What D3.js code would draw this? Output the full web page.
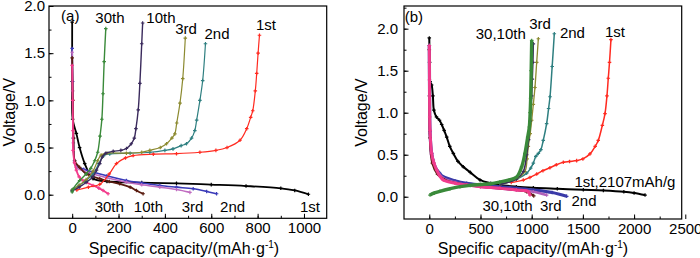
<!DOCTYPE html>
<html>
<head>
<meta charset="utf-8">
<script src="https://cdn.jsdelivr.net/npm/d3@7"></script>
<style>
body { margin: 0; background: #fff; }
svg { font-family: "Liberation Sans", Arial, sans-serif; }
</style>
</head>
<body>
<svg id="drawing_region" width="700" height="258"></svg>
<script>
// ---- panel (a): [capacity mAh/g, voltage V]
const a_dis1 = [[0,1.83],[0,1.2],[2,0.8],[18,0.65],[32,0.50],[54,0.33],[75,0.22],[90,0.17],[150,0.14],[300,0.128],[450,0.12],[600,0.107],[750,0.092],[900,0.068],[960,0.045],[1019,0.005]];
const a_dis2 = [[0,1.55],[2,1.2],[5,0.6],[10,0.36],[18,0.31],[50,0.27],[90,0.24],[150,0.2],[234,0.151],[300,0.125],[378,0.098],[450,0.08],[522,0.063],[580,0.035],[623,0.01]];
const a_dis3 = [[0,1.51],[2,1.1],[5,0.55],[12,0.33],[18,0.29],[50,0.25],[90,0.22],[150,0.18],[234,0.133],[300,0.105],[378,0.08],[450,0.055],[508,0.025]];
const a_dis10 = [[0,1.45],[3,1.0],[6,0.6],[11,0.36],[32,0.29],[61,0.22],[119,0.17],[160,0.14],[205,0.116],[250,0.08],[277,0.045],[306,0.01]];
const a_dis30 = [[0,1.37],[2,1.0],[3.6,0.68],[4,0.47],[10,0.34],[18,0.26],[30,0.19],[47,0.15],[90,0.098],[115,0.07],[133,0.045],[155,0.01]];
const a_cha1 = [[20,0.05],[70,0.08],[119,0.11],[160,0.22],[191,0.33],[230,0.39],[263,0.415],[350,0.43],[450,0.435],[551,0.45],[620,0.47],[668,0.5],[724,0.577],[753,0.7],[770,0.82],[779,0.89],[790,1.1],[796,1.285],[802,1.5],[808,1.69]];
const a_cha2 = [[0,0.05],[30,0.1],[60,0.15],[90,0.22],[115,0.33],[135,0.41],[162,0.433],[250,0.44],[335,0.45],[400,0.47],[435,0.486],[470,0.52],[493,0.54],[515,0.6],[529,0.68],[537,0.79],[551,1.0],[563,1.21],[575,1.6]];
const a_cha3 = [[0,0.05],[30,0.1],[60,0.16],[90,0.25],[110,0.36],[125,0.42],[150,0.44],[234,0.44],[300,0.45],[335,0.47],[380,0.5],[407,0.54],[430,0.6],[443,0.645],[451,0.76],[465,0.97],[477,1.23],[488,1.66]];
const a_cha10 = [[0,0.04],[30,0.08],[60,0.13],[90,0.19],[105,0.26],[119,0.33],[130,0.4],[145,0.44],[177,0.46],[210,0.47],[234,0.49],[255,0.54],[268,0.6],[275,0.7],[285,0.9],[292,1.18],[300,1.6],[304,1.82]];
const a_cha30 = [[0,0.03],[4,0.06],[32,0.15],[60,0.22],[80,0.28],[97,0.36],[110,0.45],[120,0.62],[128,0.8],[133,1.07],[138,1.41],[145,1.76]];

// ---- panel (b)
const b_dis1 = [[0,1.89],[3,1.6],[8,1.37],[23,1.33],[35,1.2],[45,1.03],[70,0.95],[100,0.91],[121,0.86],[145,0.79],[170,0.71],[200,0.6],[235,0.515],[280,0.42],[332,0.356],[400,0.29],[495,0.2],[600,0.16],[690,0.139],[850,0.12],[1016,0.107],[1250,0.095],[1504,0.083],[1700,0.075],[1900,0.06],[2000,0.045],[2107,0.02]];
const b_dis2 = [[0,1.8],[3,1.2],[7,0.78],[23,0.515],[56,0.356],[100,0.28],[137,0.238],[250,0.19],[365,0.159],[500,0.14],[690,0.119],[850,0.1],[1016,0.08],[1200,0.05],[1342,0.005]];
const b_dis3 = [[0,1.8],[3,1.2],[7,0.75],[20,0.5],[39,0.436],[80,0.3],[137,0.218],[250,0.17],[365,0.14],[500,0.12],[690,0.1],[850,0.08],[1016,0.06],[1146,0.02]];
const b_dis10 = [[0,1.75],[3,1.2],[7,0.7],[30,0.4],[80,0.27],[150,0.2],[365,0.14],[690,0.1],[950,0.06],[1020,0.01]];
const b_dis30 = [[0,1.8],[2,1.39],[4,0.95],[7,0.79],[23,0.515],[45,0.4],[72,0.317],[100,0.25],[137,0.198],[250,0.16],[365,0.139],[500,0.12],[690,0.1],[850,0.08],[967,0.06],[983,0.02]];
const b_cha1 = [[800,0.17],[918,0.198],[983,0.23],[1049,0.27],[1110,0.31],[1178,0.345],[1240,0.38],[1309,0.41],[1370,0.42],[1439,0.43],[1500,0.45],[1569,0.51],[1620,0.6],[1650,0.67],[1690,0.85],[1716,0.99],[1735,1.2],[1748,1.41],[1760,1.6],[1774,1.87]];
const b_cha2 = [[700,0.15],[851,0.21],[951,0.28],[990,0.34],[1016,0.4],[1040,0.48],[1065,0.515],[1090,0.56],[1113,0.67],[1146,0.87],[1165,1.05],[1179,1.19],[1200,1.55],[1221,1.94]];
const b_cha3 = [[700,0.15],[851,0.21],[934,0.3],[955,0.45],[967,0.6],[985,0.75],[1000,0.91],[1016,1.1],[1032,1.3],[1049,1.6],[1065,1.88]];
const b_cha10 = [[700,0.15],[851,0.21],[918,0.3],[951,0.5],[970,0.68],[985,0.9],[1000,1.2],[1006,1.4],[1012,1.6],[1016,1.82]];
const b_cha30 = [[7,0.02],[50,0.045],[104,0.065],[202,0.095],[300,0.12],[400,0.135],[500,0.145],[600,0.155],[690,0.175],[780,0.2],[853,0.235],[902,0.356],[934,0.515],[961,0.71],[977,0.83],[985,1.0],[990,1.17],[995,1.5],[1000,1.86]];

// tick values
const a_xticks = [0, 200, 400, 600, 800, 1000];
const b_xticks = [0, 500, 1000, 1500, 2000, 2500];
const yticks = [0.0, 0.5, 1.0, 1.5, 2.0];

// annotation texts
const a_texts = ["(a)", "30th", "10th", "3rd", "2nd", "1st", "30th", "10th", "3rd", "2nd", "1st"];
const b_texts = ["(b)", "30,10th", "3rd", "2nd", "1st", "1st,2107mAh/g", "30,10th", "3rd", "2nd"];

// ---- styling / layout (kept apart from the data)
const a_curves = [
    {data: a_dis1, color: '#000000', width: 1.8},
    {data: a_dis2, color: '#3a3ab8', width: 1.6},
    {data: a_dis3, color: '#c06cc0', width: 1.6},
    {data: a_dis10, color: '#5a1c10', width: 1.8},
    {data: a_dis30, color: '#f23c8c', width: 1.8},
    {data: a_cha1, color: '#ff2a20', width: 1.2},
    {data: a_cha2, color: '#2e7f80', width: 1.2},
    {data: a_cha3, color: '#8c8a30', width: 1.2},
    {data: a_cha10, color: '#3a2a5c', width: 1.4},
    {data: a_cha30, color: '#3a8a3a', width: 1.4}
];
const b_curves = [
    {data: b_dis1, color: '#000000', width: 2},
    {data: b_dis2, color: '#3a3aa8', width: 3.2},
    {data: b_dis3, color: '#b060b8', width: 2.6},
    {data: b_dis10, color: '#5a1c10', width: 2.2},
    {data: b_dis30, color: '#f03c8c', width: 3},
    {data: b_cha1, color: '#ff2a20', width: 1.5},
    {data: b_cha2, color: '#2e7f80', width: 1.5},
    {data: b_cha3, color: '#8c8a30', width: 1.3},
    {data: b_cha10, color: '#3a2a5c', width: 1.5},
    {data: b_cha30, color: '#3a8a3a', width: 3.4}
];
const a_textpos = [[-48,1.90,'start'],[163,1.88],[383,1.88],[491,1.76],[625,1.71],[836,1.80],[160,-0.12],[329,-0.12],[519,-0.12],[692,-0.12],[1026,-0.12]];
const b_textpos = [[-240,2.14,'start'],[698,1.94],[1081,2.06],[1398,1.95],[1813,1.97],[1911,0.178],[764,-0.099],[1187,-0.099],[1511,-0.04]];

const panels = [
    {xdomain: [-100, 1098], ydomain: [-0.25, 2.0], left: 49, right: 326.7, top: 6, bottom: 218.3,
     xticks: a_xticks, xminor: d3.range(-100, 1100, 100), ylabelPad: 4, curves: a_curves,
     texts: a_texts, textpos: a_textpos, ytitleX: 10, xtitleX: 184},
    {xdomain: [-247, 2465], ydomain: [-0.265, 2.27], left: 404, right: 681.7, top: 6, bottom: 219,
     xticks: b_xticks, xminor: d3.range(-250, 2500, 250), ylabelPad: 6, curves: b_curves,
     texts: b_texts, textpos: b_textpos, ytitleX: 362, xtitleX: 533}
];

const svg = d3.select('#drawing_region');
panels.forEach(p => drawPanel(p));

function drawPanel(p) {
    const x = d3.scaleLinear().domain(p.xdomain).range([p.left, p.right]);
    const y = d3.scaleLinear().domain(p.ydomain).range([p.bottom, p.top]);
    const g = svg.append('g');

    // minor ticks
    g.append('g').attr('transform', `translate(0,${p.bottom})`)
        .call(d3.axisBottom(x).tickValues(p.xminor.filter(v => v > p.xdomain[0] && v < p.xdomain[1]))
            .tickSizeInner(-2.5).tickSizeOuter(0).tickFormat(''))
        .call(a => a.select('.domain').remove());
    g.append('g').attr('transform', `translate(${p.left},0)`)
        .call(d3.axisLeft(y).tickValues(d3.range(0, 2.26, 0.25).filter(v => v < p.ydomain[1]))
            .tickSizeInner(-2.5).tickSizeOuter(0).tickFormat(''))
        .call(a => a.select('.domain').remove());

    // major ticks
    const xa = g.append('g').attr('transform', `translate(0,${p.bottom})`)
        .call(d3.axisBottom(x).tickValues(p.xticks).tickSizeInner(-4.5).tickSizeOuter(0).tickPadding(4)
            .tickFormat(d3.format('d')));
    const ya = g.append('g').attr('transform', `translate(${p.left},0)`)
        .call(d3.axisLeft(y).tickValues(yticks).tickSizeInner(-4.5).tickSizeOuter(0).tickPadding(p.ylabelPad)
            .tickFormat(d3.format('.1f')));
    [xa, ya].forEach(a => {
        a.select('.domain').remove();
        a.selectAll('text').attr('font-size', 15).attr('fill', '#000')
            .attr('font-family', '"Liberation Sans", Arial, sans-serif');
    });
    g.selectAll('.tick line').attr('stroke', '#000');

    // curves
    const line = d3.line().x(d => x(d[0])).y(d => y(d[1])).curve(d3.curveCatmullRom.alpha(0.5));
    p.curves.forEach(c => {
        g.append('path').datum(c.data)
            .attr('d', line).attr('fill', 'none')
            .attr('stroke', c.color).attr('stroke-width', c.width)
            .attr('stroke-linejoin', 'round');
        g.append('g').selectAll('path').data(c.data).join('path')
            .attr('d', d3.symbol(d3.symbolCross, 7))
            .attr('transform', d => `translate(${x(d[0])},${y(d[1])})`)
            .attr('fill', c.color);
    });

    // frame
    g.append('rect').attr('x', p.left).attr('y', p.top)
        .attr('width', p.right - p.left).attr('height', p.bottom - p.top)
        .attr('fill', 'none').attr('stroke', '#000').attr('stroke-width', 1.2);

    // annotations
    g.selectAll('text.note').data(p.texts).join('text')
        .attr('class', 'note')
        .attr('x', (d, i) => x(p.textpos[i][0]))
        .attr('y', (d, i) => y(p.textpos[i][1]) + 5.5)
        .attr('text-anchor', (d, i) => p.textpos[i][2] || 'middle')
        .attr('font-size', 15)
        .text(d => d);

    // axis titles
    const xt = g.append('text')
        .attr('x', p.xtitleX).attr('y', 254)
        .attr('text-anchor', 'middle').attr('font-size', 16)
        .text('Specific capacity/(mAh\u00b7g');
    xt.append('tspan').attr('font-size', 10).attr('dy', -6).text('-1');
    xt.append('tspan').attr('dy', 6).text(')');

    g.append('text')
        .attr('transform', `translate(${p.ytitleX + 5},${(p.top + p.bottom) / 2}) rotate(-90)`)
        .attr('text-anchor', 'middle').attr('font-size', 16)
        .text('Voltage/V');
}
</script>
</body>
</html>
